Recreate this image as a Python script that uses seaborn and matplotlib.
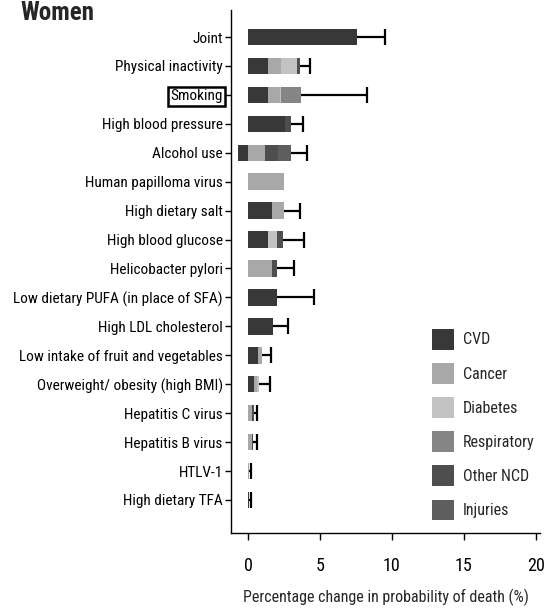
import numpy as np
import pandas as pd
import matplotlib
matplotlib.use("Agg")
import matplotlib.pyplot as plt
import matplotlib.font_manager as fm
from matplotlib.patches import Patch
import seaborn as sns

# ---------------- data ----------------
risk_factors = ["Joint", "Physical inactivity", "Smoking", "High blood pressure", "Alcohol use",
                "Human papilloma virus", "High dietary salt", "High blood glucose",
                "Helicobacter pylori", "Low dietary PUFA (in place of SFA)", "High LDL cholesterol",
                "Low intake of fruit and vegetables", "Overweight/ obesity (high BMI)",
                "Hepatitis C virus", "Hepatitis B virus", "HTLV-1", "High dietary TFA"]
causes = ["CVD", "Cancer", "Diabetes", "Respiratory", "Other NCD", "Injuries"]
cvd         = [7.6, 1.4, 1.4, 2.6, -0.7, 0.0, 1.7, 1.4, 0.0, 2.0, 1.75, 0.7, 0.4, 0.0, 0.0, 0.0, 0.1]
cancer      = [0.0, 0.9, 0.8, 0.0, 1.2, 2.5, 0.8, 0.0, 1.7, 0.0, 0.0, 0.3, 0.2, 0.3, 0.25, 0.1, 0.0]
diabetes    = [0.0, 1.1, 0.1, 0.0, 0.0, 0.0, 0.0, 0.6, 0.0, 0.0, 0.0, 0.0, 0.15, 0.0, 0.0, 0.0, 0.0]
respiratory = [0.0, 0.0, 1.4, 0.0, 0.0, 0.0, 0.0, 0.0, 0.0, 0.0, 0.0, 0.0, 0.0, 0.0, 0.0, 0.0, 0.0]
other_ncd   = [0.0, 0.2, 0.0, 0.4, 0.9, 0.0, 0.0, 0.4, 0.3, 0.0, 0.0, 0.0, 0.0, 0.15, 0.1, 0.0, 0.0]
injuries    = [0.0, 0.0, 0.0, 0.0, 0.9, 0.0, 0.0, 0.0, 0.0, 0.0, 0.0, 0.0, 0.0, 0.0, 0.0, 0.0, 0.0]
upper_ci    = [9.5, 4.3, 8.3, 3.8, 4.1, np.nan, 3.6, 3.9, 3.2, 4.6, 2.8, 1.6, 1.5, 0.6, 0.65, 0.22, 0.2]
x_ticks = [0, 5, 10, 15, 20]
x_label = "Percentage change in probability of death (%)"
title = "Women"

colors = ["#383838", "#a8a8a8", "#c2c2c2", "#858585", "#4e4e4e", "#5e5e5e"]

# ---------------- fonts ----------------
sns.set_theme(style="ticks")
names = {f.name for f in fm.fontManager.ttflist}
family = ["DejaVu Sans"]
for cand in ["Liberation Sans Narrow", "DejaVu Sans Condensed", "Roboto Condensed", "Open Sans Condensed"]:
    if cand in names:
        family = [cand, "DejaVu Sans"]
        break
plt.rcParams["font.family"] = family

# ---------------- figure ----------------
W, H = 545, 609
fig = plt.figure(figsize=(W / 100, H / 100), dpi=100)
ax = fig.add_axes([231 / W, 1 - 533 / H, (540 - 231) / W, (533 - 10) / H])

segments = [cvd, cancer, diabetes, respiratory, other_ncd, injuries]
pos = np.array([np.clip(np.array(s, float), 0, None) for s in segments])
neg = np.clip(np.array(cvd, float), None, 0)
cum = np.cumsum(pos, axis=0)

# stacked bars: draw cumulative totals from last to first
for k in range(len(causes) - 1, -1, -1):
    df = pd.DataFrame({"factor": risk_factors, "value": cum[k]})
    sns.barplot(data=df, x="value", y="factor", order=risk_factors, orient="h",
                color=colors[k], saturation=1, width=0.57, errorbar=None,
                edgecolor="none", linewidth=0, ax=ax)
df_neg = pd.DataFrame({"factor": risk_factors, "value": neg})
sns.barplot(data=df_neg, x="value", y="factor", order=risk_factors, orient="h",
            color=colors[0], saturation=1, width=0.57, errorbar=None,
            edgecolor="none", linewidth=0, ax=ax)

# upper error bars
totals = cum[-1]
ypos = np.arange(len(risk_factors))
err_up = np.array(upper_ci) - totals
eb = ax.errorbar(totals, ypos, xerr=[np.zeros_like(err_up), err_up], fmt="none",
                 ecolor="black", elinewidth=1.6, capsize=6, capthick=1.6, zorder=5)
caps = eb[1]
if len(caps) >= 2:
    caps[0].set_visible(False)

ax.set_xlim(-1.18, 20.3)
ax.set_ylim(16 + 33 / 28.9, -27 / 28.9)
ax.set_xticks(x_ticks)
ax.set_xticklabels([str(t) for t in x_ticks], fontsize=13)
ax.set_xlabel(x_label, fontsize=11.5, labelpad=10)
ax.set_ylabel("")
ax.tick_params(axis="y", length=4, width=1, pad=2, labelsize=11, colors="black")
ax.tick_params(axis="x", length=5, width=1, pad=12, colors="black")
for s in ["top", "right"]:
    ax.spines[s].set_visible(False)
for s in ["left", "bottom"]:
    ax.spines[s].set_color("black")
    ax.spines[s].set_linewidth(1)

for lbl in ax.get_yticklabels():
    if lbl.get_text() == "Smoking":
        lbl.set_bbox(dict(facecolor="white", edgecolor="black", linewidth=1.8, pad=1.5))

handles = [Patch(facecolor=c, edgecolor="none") for c in colors]
ax.legend(handles, causes, loc="upper left", bbox_to_anchor=(432 / W, 1 - 329 / H),
          bbox_transform=fig.transFigure, frameon=False, fontsize=11.5,
          handlelength=1.35, handleheight=1.6, handletextpad=0.6, labelspacing=0.85,
          borderpad=0, borderaxespad=0)

fig.text(20 / W, 1 - 20 / H, title, fontsize=18, fontweight="bold", ha="left", va="baseline")

fig.savefig("out.png", dpi=100)
